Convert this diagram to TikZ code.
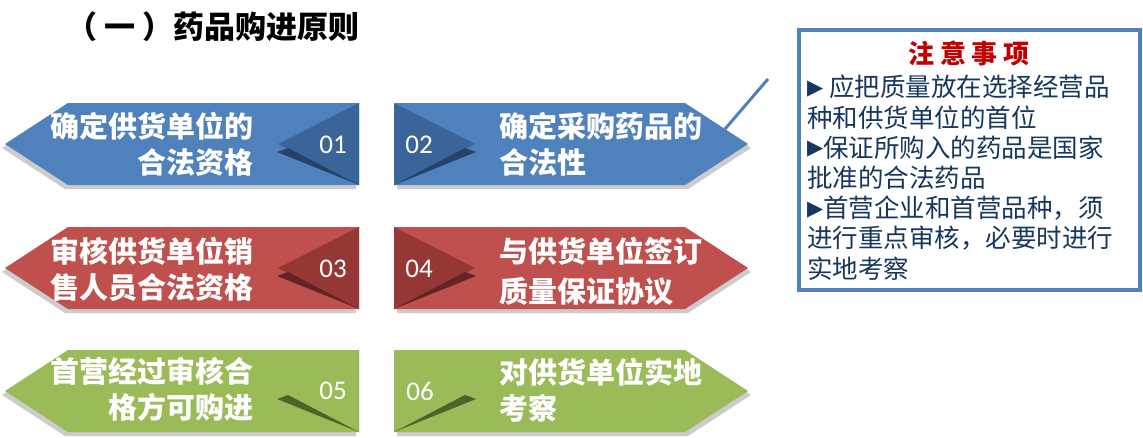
\documentclass[tikz,border=0pt]{standalone}
\usepackage{fontspec}
\newfontfamily\cjk{Noto Sans CJK SC}
\newfontfamily\numfont{Carlito}
\newfontfamily\symfont{DejaVu Sans}
\usetikzlibrary{positioning}

\definecolor{blueA}{HTML}{4F81BD}
\definecolor{blueB}{HTML}{3B6498}
\definecolor{blueC}{HTML}{25426B}
\definecolor{redA}{HTML}{C0504D}
\definecolor{redB}{HTML}{953735}
\definecolor{redC}{HTML}{632523}
\definecolor{greenA}{HTML}{9BBB59}
\definecolor{greenC}{HTML}{4F6228}
\definecolor{navy}{HTML}{17375E}
\definecolor{titlered}{HTML}{C00000}

\newcommand{\bulletmark}{\raisebox{2.5pt}{\symfont\fontsize{21}{21}\selectfont ▶}}

\begin{document}
\begin{tikzpicture}[
	x=1pt, y=-1pt,
	armtext/.style={text=white, font=\cjk\bfseries\fontsize{29}{36}\selectfont, inner sep=0pt},
	armnum/.style={text=white, font=\numfont\fontsize{27}{27}\selectfont, inner sep=0pt},
	shadowfill/.style={fill=black!20},
	notebox/.style={draw=blueA, line width=4pt, fill=white, minimum width=341pt, minimum height=260pt},
	notehead/.style={text=titlered, font=\cjk\bfseries\fontsize{26}{30}\selectfont, inner sep=0pt},
	notebody/.style={text=navy, font=\cjk\fontsize{25.5}{30.2}\selectfont, align=left, inner sep=0pt},
	callout/.style={draw=blueA, line width=3pt}
]
\useasboundingbox[fill=white] (0,0) rectangle (1143,437);

% --- Title ---
\node[font=\cjk\bfseries\fontsize{31}{31}\selectfont, inner sep=0pt, anchor=east] (title) at (360,27) {（ 一 ）药品购进原则};

% --- Arrow ribbons (left ones, then mirrored right ones) ---
\foreach \y/\body/\dark/\fold in {144/blueA/blueB/blueC,268/redA/redB/redC,391/greenA/greenA/greenC}
  \foreach \s/\dx in {1/0,-1/753}
  {
    \begin{scope}[xshift=\dx pt, xscale=\s]
      \fill[shadowfill] (2,\y+4) -- (65,\y-37) -- (356,\y-37) -- (356,\y+45) -- (65,\y+45) -- cycle;
      \fill[\body] (5,\y) -- (68,\y-41) -- (359,\y-41) -- (359,\y+41) -- (68,\y+41) -- cycle;
      \fill[\dark] (359,\y-41) -- (278,\y) -- (359,\y+41) -- cycle;
      \fill[\fold] (277,\y+8) -- (288,\y+4) -- (359,\y+41) -- cycle;
    \end{scope}
  }

% --- Arrow texts ---
\node[armtext, align=right, anchor=east] (t1) at (254,144) {确定供货单位的\\合法资格};
\node[armtext, align=left, anchor=west] (t2) at (499,144) {确定采购药品的\\合法性};
\node[armtext, align=right, anchor=east] (t3) at (254,269) {审核供货单位销\\售人员合法资格};
\node[armtext, align=left, anchor=west] (t4) at (499,271) {与供货单位签订\\[4pt]质量保证协议};
\node[armtext, align=right, anchor=east] (t5) at (254,389) {首营经过审核合\\格方可购进};
\node[armtext, align=left, anchor=west] (t6) at (499,390) {对供货单位实地\\考察};

\foreach \n/\x/\y in {01/333/145,02/419/145,03/333/269,04/419/269,05/333/391,06/420/391}
  \node[armnum] (n\n) at (\x,\y) {\n};

% --- Notes ---
\coordinate (a2edge) at (725,129);
\coordinate (calloutend) at (768,79);
\draw[callout] (a2edge) -- (calloutend);

\node[notebox] (note) at (969,160) {};
\node[notehead, below=13pt of note.north] (notehead) {注 意 事 项};
\node[notebody, anchor=north west] (notetext) at (807,75) {\bulletmark\ 应把质量放在选择经营品\\种和供货单位的首位\\\bulletmark 保证所购入的药品是国家\\批准的合法药品\\\bulletmark 首营企业和首营品种，须\\进行重点审核，必要时进行\\实地考察};

\end{tikzpicture}
\end{document}
